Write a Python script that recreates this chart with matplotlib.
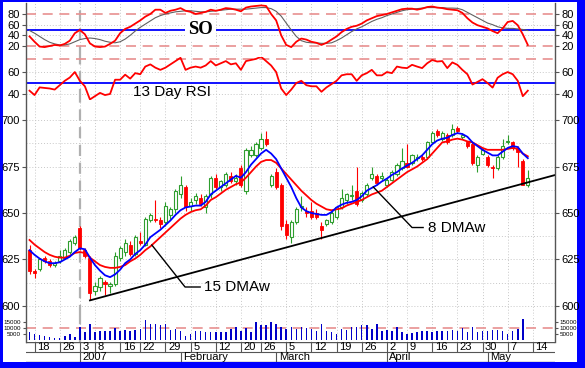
import matplotlib
matplotlib.use('Agg')
import matplotlib.pyplot as plt
import numpy as np
from matplotlib.patches import Rectangle

# ---------------- data ----------------
days = list(range(-10, 90))  # trading-day index, 0 = 3 Jan 2007

opens = [630, 619, 620, 626, 624, 622, 624, 626, 629, 634,
         642, 630, 626, 608, 610, 613, 611, 612, 626, 629,
         633, 628, 635, 633, 646, 647, 646, 645, 649, 652,
         660, 664, 654, 657, 658, 653, 660, 669, 664, 665,
         670, 667, 674, 662, 681, 681, 685, 690, 665, 672,
         665, 644, 637, 645, 653, 651, 651, 650, 643, 644,
         645, 648, 653, 657, 659, 662, 657, 660, 669, 670,
         669, 665, 668, 671, 674, 677, 677, 679.5, 680, 680,
         688, 694, 690, 692, 692, 696, 691, 688, 687, 676,
         682, 680, 675, 674, 680, 688, 688, 685, 678, 665]
highs = [633, 620, 626, 627, 625, 624, 630, 631, 636, 638,
         643, 631, 627, 613, 616, 614, 613, 629, 632, 636,
         635, 638, 640, 648, 650, 657, 648, 656, 653, 663,
         670, 665, 658, 661, 660, 660, 670, 671, 668, 672,
         672, 671, 676, 685, 686, 688, 693, 694, 671, 674,
         666, 646, 646, 653, 659, 653, 656, 652, 645, 647,
         651, 654, 663, 661, 665, 675, 662, 666, 675, 671,
         672, 669, 673, 677, 685, 687, 682, 682, 681, 689,
         694, 695, 694, 693, 698, 697, 693, 689, 688, 681,
         685, 681, 676, 681, 690, 692, 689, 686, 679, 673]
lows = [617, 615, 619, 623, 621, 621, 623, 625, 628, 633,
        630, 626, 603, 606, 608, 606, 607, 611, 624, 627,
        627, 627, 633, 632, 645, 645, 642, 643, 647, 650,
        658, 651, 651, 655, 654, 650, 658, 663, 662, 664,
        666, 665, 664, 660, 680, 680, 684, 686, 664, 663,
        641, 636, 634, 644, 651, 648, 647, 647, 636, 643,
        644, 647, 652, 655, 657, 654, 656, 659, 668, 665,
        668, 664, 667, 670, 673, 674, 676, 678, 678, 679,
        687, 691, 689, 687, 691, 693, 690, 685, 676, 672,
        681, 675, 669, 673, 679, 687, 684, 675, 665, 664]
closes = [619, 618, 625, 624, 622, 623, 627, 630, 635, 637,
          631, 627, 607, 611, 615, 612, 612, 627, 631, 634,
          628, 637, 634, 647, 649, 646, 644, 654, 652, 662,
          665, 653, 656, 659, 655, 659, 669, 664, 667, 671,
          667, 669, 665, 684, 684, 687, 690, 687, 670, 664,
          643, 638, 645, 652, 654, 650, 648, 648, 641, 646,
          650, 653, 658, 660, 659.5, 655, 661, 665, 671, 666,
          670, 668, 672, 676, 678, 675, 681, 680, 679, 688,
          693, 692, 693, 688, 695, 694, 692, 686, 677, 680,
          684, 676, 674, 680, 686, 689, 685, 683, 665, 669]

ma8 = [630, 627.5, 625.5, 624, 623, 623, 623.5, 625, 626.5, 629,
       631, 630.5, 626, 622, 619, 616.5, 615.5, 617, 619.5, 623,
       625, 628, 630, 633, 637, 639, 641, 643.5, 646, 649,
       651.5, 653, 653.5, 654, 654, 656, 660, 662, 664, 666,
       668, 670, 669, 672, 676, 679, 682, 684, 682, 679,
       674, 669, 664, 658, 653, 651, 650, 649.5, 649, 649,
       650.5, 653, 654.5, 655.5, 656, 657, 659, 662, 663.5, 665,
       667, 668.5, 670.5, 672, 674, 675.5, 677, 679, 681, 684,
       687, 689, 690, 690.5, 692, 693, 692.5, 691, 688, 686,
       684, 682.5, 681, 681, 683, 685, 686, 685.5, 682, 679.5]
ma15 = [635.5, 633, 631, 629, 627.5, 626.5, 626, 626, 627, 628.5,
        629, 628.5, 626, 624, 622, 621, 620.5, 620.5, 621, 622,
        624, 625.5, 627.5, 630, 632, 634.5, 637, 639.5, 642, 644.5,
        647, 649, 650.5, 651.5, 652, 654, 657, 658.5, 660.5, 662.5,
        664, 665.5, 666.5, 669, 672, 675, 677.5, 678.5, 678.5, 677,
        674, 671, 668, 665, 662, 659.5, 657, 655, 653.5, 652,
        651.5, 652, 652.5, 654, 655, 656, 657, 658.5, 660, 661,
        662, 664, 666, 668, 670, 672, 673.5, 675, 677, 679,
        682, 685, 688, 688.5, 689.5, 690, 689.5, 688.5, 688, 686.5,
        685, 684, 684, 684, 684, 684.5, 685, 684.5, 682, 680.5]

volume_k = [6.3, 4.9, 4.0, 3.4, 2.6, 2.0, 2.0, 3.4, 4.9, 2.6,
            11.0, 6.9, 12.9, 6.3, 7.0, 7.7, 7.0, 10.0, 7.7, 8.3,
            7.7, 8.3, 9.0, 16.0, 12.9, 12.9, 12.0, 12.9, 8.3, 9.0,
            7.7, 3.4, 4.9, 7.7, 7.7, 6.3, 6.3, 6.3, 6.3, 6.3,
            9.0, 10.6, 7.7, 10.0, 6.3, 14.9, 12.0, 12.0, 14.9, 12.9,
            10.6, 9.0, 10.6, 9.0, 10.6, 10.0, 9.0, 7.7, 13.4, 7.7,
            6.3, 4.9, 9.0, 8.3, 10.6, 10.6, 12.0, 12.0, 9.0, 13.4,
            7.0, 8.3, 7.0, 10.6, 6.3, 4.9, 5.4, 6.3, 7.0, 7.7,
            6.3, 7.0, 7.7, 7.0, 8.3, 7.7, 10.0, 6.3, 10.6, 6.3,
            7.7, 7.0, 8.3, 8.3, 7.7, 4.9, 7.0, 9.0, 16.9, 0.0]

so_k = [38, 28, 19, 18, 20, 22, 21, 24, 30, 44,
        50, 42, 25, 19, 18, 19, 24, 30, 44, 52,
        56, 62, 68, 75, 80, 88, 88, 82, 86, 88,
        91, 86, 84, 80, 82, 84, 88, 86, 88, 91,
        90, 88, 85, 92, 94, 95, 96, 95, 80, 68,
        40, 22, 18, 28, 34, 32, 28, 26, 22, 26,
        32, 38, 46, 52, 56, 58, 62, 68, 72, 76,
        78, 80, 83, 86, 89, 90, 90, 88, 90, 93,
        94, 92, 91, 89, 88, 87, 82, 72, 64, 59,
        56, 53, 48, 44, 53, 65, 67, 59, 42, 22]
so_d = [49, 44, 38, 32, 27, 24, 22, 22, 24, 28,
        32, 34, 35, 34, 32, 29, 27, 26, 28, 33,
        40, 48, 55, 61, 67, 73, 77, 80, 82, 84,
        85, 86, 86, 85, 84, 84, 85, 86, 87, 88,
        89, 89, 89, 89, 90, 91, 92, 92, 90, 85,
        76, 63, 50, 38, 30, 27, 26, 26, 25, 25,
        26, 30, 35, 41, 47, 52, 56, 61, 66, 70,
        73, 77, 80, 83, 86, 88, 89, 90, 91, 92,
        92, 92, 92, 91, 91, 90.6, 88, 83, 78, 73,
        68, 63, 60, 56, 54, 53, 53, 52, 51, 49]
rsi = [43, 39, 46, 45.5, 45, 44, 48, 52, 55, 60,
       52, 47, 35, 38, 41, 39, 40, 53, 53, 57.6,
       54, 59, 58, 65, 67, 64, 62, 64, 67, 70,
       73, 62, 64, 65, 64, 66, 70, 66, 68, 70,
       67, 68, 62, 70, 71, 72, 74, 70, 66, 60,
       45, 39, 44, 50, 52, 48, 47, 47, 42, 46,
       49, 52, 57, 58, 58, 52, 57, 59, 62, 57,
       57, 60, 59, 65, 64, 63.6, 66.6, 65, 63.6, 68,
       71, 69.6, 70, 63.6, 68.8, 66.6, 62, 58, 48.6, 51,
       53.5, 50, 45.8, 54.8, 58, 60, 58, 52, 38, 43]

trend_x = [2, 94.5]
trend_y = [603, 670.5]

day_ticks = [-9, -4, 0, 3, 8, 12, 17, 22, 27, 32, 36, 41, 46, 51, 56, 61, 65, 70, 75, 80, 85, 90]
day_labels = ['18', '26', '3', '8', '16', '22', '29', '5', '12', '20', '26',
              '5', '12', '19', '26', '2', '9', '16', '23', '30', '7', '14']
month_ticks = [0, 20, 39, 61, 81]
month_labels = ['2007', 'February', 'March', 'April', 'May']

# ---------------- layout ----------------
W, H = 585, 368
FONT = 'Liberation Sans'
plt.rcParams['font.family'] = [FONT, 'DejaVu Sans']
fig = plt.figure(figsize=(W / 100, H / 100), dpi=100)
fig.patch.set_facecolor('#0000FF')
fig.patches.append(Rectangle((3 / W, 6 / H), 574 / W, 360 / H, transform=fig.transFigure,
                             facecolor='white', edgecolor='none', zorder=-10))

X0, X1 = -10.7, 94.4
L, R = 26, 555


def ax_at(top_px, bot_px):
    a = fig.add_axes([L / W, 1 - bot_px / H, (R - L) / W, (bot_px - top_px) / H])
    a.set_xlim(X0, X1)
    a.set_facecolor('none')
    for s in a.spines.values():
        s.set_visible(False)
    a.tick_params(axis='x', which='both', bottom=False, labelbottom=False)
    a.tick_params(axis='y', which='both', left=True, right=True, labelleft=True, labelright=True,
                  direction='out', length=3, width=0.8, color='#555555', labelsize=8, pad=1.5)
    for xt in day_ticks:
        a.axvline(xt, color='#c8c8c8', lw=0.7, ls=(0, (1, 2)), zorder=0.5)
    a.axvline(0, color='#b0b0b0', lw=1.6, ls=(0, (5, 3)), zorder=0.6)
    return a


GREEN = '#2e9e2e'
RED = '#ff0000'
BLUE = '#0000ff'
SALMON = '#e89090'

# SO panel
ax_so = ax_at(3.3, 56.7)
ax_so.set_ylim(0, 100)
ax_so.set_yticks([20, 40, 60, 80])
for v in [40, 60]:
    ax_so.axhline(v, color='#c8c8c8', lw=0.7, ls=(0, (1, 2)), zorder=0.5)
for v in [20, 80]:
    ax_so.axhline(v, color=SALMON, lw=1.2, ls=(0, (6, 4)), zorder=0.7)
ax_so.axhline(50, color=BLUE, lw=1.3, zorder=1)
ax_so.plot(days, so_d, color='#606060', lw=0.8, zorder=2)
ax_so.plot(days, so_k, color=RED, lw=1.3, zorder=3)
ax_so.text(24, 50, 'SO', family=['Liberation Serif'], fontweight='bold', fontsize=13.5,
           ha='center', va='center', zorder=4,
           bbox=dict(facecolor='white', edgecolor='none', pad=2))

# RSI panel
ax_rsi = ax_at(56.7, 100)
ax_rsi.set_ylim(34.5, 74)
ax_rsi.set_yticks([40, 60])
for v in [40, 60]:
    ax_rsi.axhline(v, color='#c8c8c8', lw=0.7, ls=(0, (1, 2)), zorder=0.5)
ax_rsi.axhline(71.5, color=SALMON, lw=1.2, ls=(0, (6, 4)), zorder=0.7)
ax_rsi.axhline(50, color=BLUE, lw=1.3, zorder=1)
ax_rsi.plot(days, rsi, color=RED, lw=1.3, zorder=3)
ax_rsi.text(10.5, 41.5, '13 Day RSI', fontsize=11, ha='left', va='center', zorder=4)

# Price panel
ax_p = ax_at(100, 316)
ax_p.set_ylim(594.6, 710.8)
ax_p.set_yticks([600, 625, 650, 675, 700])
for v in np.arange(600, 710, 12.5):
    ax_p.axhline(v, color='#c8c8c8', lw=0.7, ls=(0, (1, 2)), zorder=0.5)
d = np.array(days)
o = np.array(opens, float)
c = np.array(closes, float)
up = c >= o
ax_p.vlines(d[up], np.array(lows)[up], np.array(highs)[up], color=GREEN, lw=0.8, zorder=2)
ax_p.vlines(d[~up], np.array(lows)[~up], np.array(highs)[~up], color=RED, lw=0.8, zorder=2)
ax_p.bar(d[up], np.maximum(c - o, 0.4)[up], bottom=o[up], width=0.62, facecolor='white',
         edgecolor=GREEN, lw=0.8, zorder=3)
ax_p.bar(d[~up], np.maximum(o - c, 0.4)[~up], bottom=c[~up], width=0.62, facecolor=RED,
         edgecolor=RED, lw=0.6, zorder=3)
ax_p.plot(days, ma15, color=RED, lw=1.3, zorder=4)
ax_p.plot(days, ma8, color=BLUE, lw=1.3, zorder=5)
ax_p.plot(trend_x, trend_y, color='black', lw=1.3, zorder=5, clip_on=True)
# annotations
ax_p.plot([14.3, 20.9, 23.9], [632.8, 610.2, 610.2], color='black', lw=1.0, zorder=6)
ax_p.text(24.6, 610.2, '15 DMAw', fontsize=11, ha='left', va='center', zorder=6)
ax_p.plot([58.3, 66.0, 68.2], [664.0, 642.2, 642.2], color='black', lw=1.0, zorder=6)
ax_p.text(69.2, 642.2, '8 DMAw', fontsize=11, ha='left', va='center', zorder=6)

# Volume panel
ax_v = ax_at(316, 342)
ax_v.set_ylim(-1500, 19500)
ax_v.set_yticks([5000, 10000, 15000])
ax_v.tick_params(axis='y', labelsize=4.5, length=2)
ax_v.axhline(10000, color=SALMON, lw=1.2, ls=(0, (6, 4)), zorder=0.7)
ax_v.bar(days, np.array(volume_k) * 1000, width=0.3, color='#0000c8', zorder=2)

# Date axis
ax_d = fig.add_axes([L / W, 1 - 362 / H, (R - L) / W, 20 / H])
ax_d.set_xlim(X0, X1)
ax_d.set_ylim(0, 2)
ax_d.axis('off')
ax_d.axhline(2, color='#555555', lw=1.0)
ax_d.axhline(1, color='#555555', lw=0.8)
ax_d.axhline(0, color='#555555', lw=1.0)
ax_d.vlines(day_ticks, 1, 2, color='#555555', lw=0.8)
for xt, lab in zip(day_ticks, day_labels):
    ax_d.text(xt + 0.5, 1.5, lab, fontsize=8, ha='left', va='center')
ax_d.vlines(month_ticks, 0, 1, color='#555555', lw=0.8)
for xt, lab in zip(month_ticks, month_labels):
    ax_d.text(xt + 0.5, 0.5, lab, fontsize=8, ha='left', va='center')

# plot frame (left / right spines over all panels)
ax_f = fig.add_axes([L / W, 1 - 342 / H, (R - L) / W, (342 - 3.3) / H])
ax_f.set_facecolor('none')
ax_f.set_xticks([])
ax_f.set_yticks([])
for s in ['top', 'bottom']:
    ax_f.spines[s].set_visible(False)
for s in ['left', 'right']:
    ax_f.spines[s].set_color('#555555')
    ax_f.spines[s].set_linewidth(1.0)

fig.savefig('out.png', dpi=100, facecolor=fig.get_facecolor())
